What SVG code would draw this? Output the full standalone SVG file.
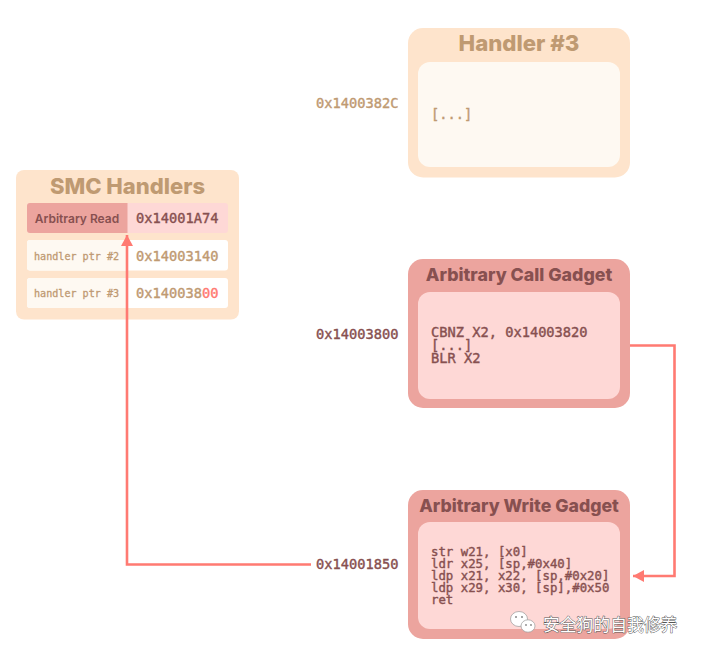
<svg xmlns="http://www.w3.org/2000/svg" width="701" height="656" viewBox="0 0 701 656">
<defs>
<style>
.t{font-family:Inter,"Liberation Sans",sans-serif;font-weight:800;text-anchor:middle}
.m{font-family:"DejaVu Sans Mono","Liberation Mono",monospace;font-size:13.700px;font-weight:400;stroke-width:.4px}
.c{font-size:12.350px}
.s{font-size:10.100px;stroke-width:.3px}
.tan{fill:#bf9a72;stroke:#bf9a72}
.dark{fill:#875050;stroke:#875050}
.wine{fill:#875050}
.tanf{fill:#bf9a72}
.conn{fill:none;stroke:#ff7a72;stroke-width:2.600}
.peach{fill:#fee4cc}
.cream{fill:#fef9f2}
.rose{fill:#eca49e}
.pink{fill:#fed8d6}
</style>
<marker id="arrow" markerUnits="userSpaceOnUse" markerWidth="12" markerHeight="12" refX="11" refY="6" orient="auto"><path d="M0 0L11 6L0 12Z" fill="#ff7a72"/></marker>
</defs>
<rect width="701" height="656" fill="#fff"/>
<g id="smc-handlers">
<rect class="peach" x="16" y="170" width="223" height="149.500" rx="8"/>
<text class="t tanf" x="127.500" y="193.500" font-size="22">SMC Handlers</text>
<rect class="pink" x="27" y="203" width="201" height="30" rx="3"/>
<path class="rose" d="M30 203H127.500V233H30a3 3 0 0 1-3-3V206a3 3 0 0 1 3-3Z"/>
<text x="77" y="222.500" font-size="12" font-family="Inter,'Liberation Sans',sans-serif" font-weight="600" text-anchor="middle" fill="#875050">Arbitrary Read</text>
<text class="m dark" x="136" y="223">0x14001A74</text>
<rect fill="#fff" x="27" y="240" width="201" height="30.500" rx="3"/>
<path class="cream" d="M30 240H127.500V270.500H30a3 3 0 0 1-3-3V243a3 3 0 0 1 3-3Z"/>
<text class="m s tan" x="34" y="259.500">handler ptr #2</text>
<text class="m tan" x="136" y="260.500">0x14003140</text>
<rect fill="#fff" x="27" y="278" width="201" height="30" rx="3"/>
<path class="cream" d="M30 278H127.500V308H30a3 3 0 0 1-3-3V281a3 3 0 0 1 3-3Z"/>
<text class="m s tan" x="34" y="297">handler ptr #3</text>
<text class="m tan" x="136" y="298">0x140038<tspan fill="#ff7a72" stroke="#ff7a72">00</tspan></text>
</g>
<g id="handler-3">
<text class="m tan" x="316" y="108">0x1400382C</text>
<rect class="peach" x="408" y="28" width="222" height="149.500" rx="15"/>
<rect class="cream" x="418" y="62" width="202" height="105" rx="12"/>
<text class="t tanf" x="519" y="51" font-size="22.200">Handler #3</text>
<text class="m tan" x="431" y="119">[...]</text>
</g>
<g id="arbitrary-call">
<text class="m dark" x="316" y="339">0x14003800</text>
<rect class="rose" x="408" y="259" width="222" height="149" rx="15"/>
<rect class="pink" x="418" y="292" width="202" height="107" rx="12"/>
<text class="t wine" x="519" y="280.500" font-size="17.800">Arbitrary Call Gadget</text>
<text class="m dark"><tspan x="431" y="337">CBNZ X2, 0x14003820</tspan><tspan x="431" y="350">[...]</tspan><tspan x="431" y="363">BLR X2</tspan></text>
</g>
<g id="arbitrary-write">
<text class="m dark" x="316" y="569">0x14001850</text>
<rect class="rose" x="408" y="490" width="222" height="149" rx="15"/>
<rect class="pink" x="418" y="522" width="202" height="107" rx="12"/>
<text class="t wine" x="519" y="511.500" font-size="17.700">Arbitrary Write Gadget</text>
<text class="m c dark"><tspan x="431" y="556">str w21, [x0]</tspan><tspan x="431" y="568">ldr x25, [sp,#0x40]</tspan><tspan x="431" y="580">ldp x21, x22, [sp,#0x20]</tspan><tspan x="431" y="592">ldp x29, x30, [sp],#0x50</tspan><tspan x="431" y="604">ret</tspan></text>
</g>
<g id="connectors">
<path class="conn" d="M630 345.500H674.500V576H633" marker-end="url(#arrow)"/>
<path class="conn" d="M311 564.500H127V235" marker-end="url(#arrow)"/>
</g>
<g id="watermark">
<ellipse cx="519" cy="619" rx="8.500" ry="7.500" fill="#fff" stroke="#999" stroke-width=".7"/>
<ellipse cx="528" cy="626" rx="7" ry="6.200" fill="#fff" stroke="#999" stroke-width=".7"/>
<circle cx="516" cy="617" r="1" fill="#888"/><circle cx="522" cy="617" r="1" fill="#888"/>
<circle cx="526" cy="625" r=".9" fill="#888"/><circle cx="531" cy="625" r=".9" fill="#888"/>
<text x="543" y="631" font-family="'Noto Sans CJK SC',sans-serif" font-size="16.800" fill="#fff" stroke="#555" stroke-width=".9" paint-order="stroke">安全狗的自我修养</text>
</g>
</svg>
